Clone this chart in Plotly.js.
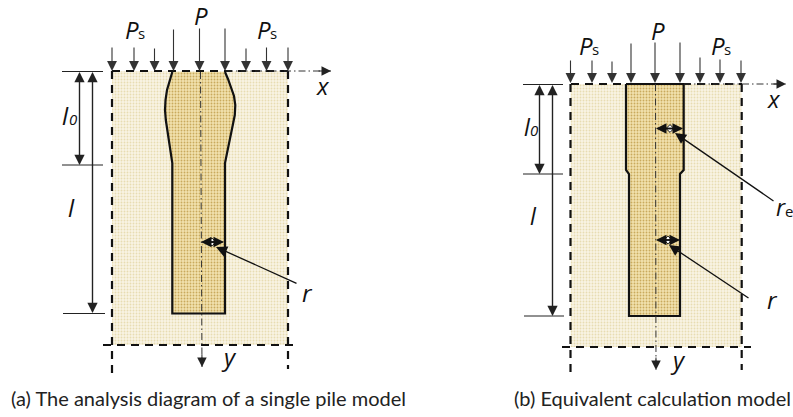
<!DOCTYPE html>
<html><head><meta charset="utf-8">
<script src="https://cdn.plot.ly/plotly-3.0.1.min.js"></script>
<style>html,body{margin:0;padding:0;background:#fff}#c{width:793px;height:417px}</style>
</head><body><div id="c"></div>
<script>
// Panel (a)
const soilAx=[112,288,288,112,112], soilAy=[71,71,345,345,71];
const pileAx=[172.3,170,167,165.5,165,165.8,167,168.5,170.5,172.3,172.3,225,225,228,230.5,233,234.8,235.3,234,231.5,228,225];
const pileAy=[72,80,90,100,110,120,128,140,152,163,313.5,313.5,163,147,135,124,115,105,96,88,79,72];
const borderTopA={x:[112,288],y:[71,71]};
const borderLeftA={x:[112,112],y:[71,374]};
const borderRightA={x:[288,288],y:[71,369]};
const borderBottomA={x:[103,293],y:[345,345]};
const loadXA=[112,134,154.5,173.5,199.5,225,246,266.5,288];
const loadTopA=[46,46,47,28,27,27,47,46,46];
const loadEndA=71;
// Panel (b)
const soilBx=[570.7,741.7,741.7,570.7,570.7], soilBy=[84,84,347,347,84];
const pileBx=[626,626,629,629,680,680,683.7,683.7,626];
const pileBy=[84,170,174,316,316,174,170,84,84];
const borderTopB={x:[571,742],y:[84,84]};
const borderLeftB={x:[570.5,570.5],y:[84,374]};
const borderRightB={x:[741.7,741.7],y:[84,370]};
const borderBottomB={x:[562,751],y:[347,347]};
const loadXB=[570.5,592,612,631,655,680,700,720,741];
const loadTopB=[59,59,60,42,41,41,56,58,59];
const loadEndB=83;
// Axes and dimension lines: [x0,y0,x1,y1]
const axisLines=[[226,71,331,71],[200.5,72,202,367],[684,84,786,84],[655.5,84,656,370]];
const thinLines=[[62,71.5,103,71.5],[62,165,103,165],[63,313.5,105,313.5],[523,84.5,563,84.5],[523,174,563,174],[524,316,564,316]];
const doubleArrows=[[79.5,72,79.5,165],[92.5,72,92.5,313],[539.5,85,539.5,174],[552.5,85,552.5,316]];
const radiusArrows=[[201,242,224,242],[656,128.5,683,128.5],[656,240,680,240]];
const radiusCentreX=[212,670,668], radiusCentreY=[242,128.5,240];
const leaders=[[298,284,216,247],[775,202,675,133],[750,299,669,245]];
// Italic labels: [string,x,y,size]
const italicText=[["P",201,15,24],["P",131.5,29,24],["P",263.5,29,24],["l",65.5,115,24],["0",72.5,119,15],["l",71,207,24],["x",323,85,24],["y",229,356,24],["r",307,292,24],
["P",658,30,24],["P",586,45,24],["P",717.5,45,24],["l",527.5,127,23],["0",534,130,15],["l",533,216,23],["x",774,98,24],["y",678,359,24],["r",781,207,23],["r",772,299,24]];
// Upright subscripts: [string,x,y,size]
const subText=[["s",141.5,33,15],["s",273.5,33,15],["s",595.5,49,15],["s",727,49,15],["e",789,211,15]];
const captions=[["(a) The analysis diagram of a single pile model",208,398],["(b) Equivalent calculation model",652,398]];

const soilPat={shape:'.',bgcolor:'#f9f4e4',fgcolor:'#e8dcb2',size:3,solidity:0.3};
const pilePat={shape:'.',bgcolor:'#f2e2ae',fgcolor:'#c9aa5c',size:3,solidity:0.3};
const traces=[];
function area(x,y,pat,line){traces.push({x,y,type:'scatter',mode:'lines',fill:'toself',fillpattern:pat,fillcolor:pat.bgcolor,line:line,hoverinfo:'skip',showlegend:false});}
function seg(x,y,line){traces.push({x,y,type:'scatter',mode:'lines',line,hoverinfo:'skip',showlegend:false});}
const noLine={width:0,color:'rgba(0,0,0,0)'};
area(soilAx,soilAy,soilPat,noLine);
area(soilBx,soilBy,soilPat,noLine);
area(pileAx,pileAy,pilePat,{width:2.2,color:'#111'});
area(pileBx,pileBy,pilePat,{width:2.2,color:'#111'});
const dash={width:2.2,color:'#111',dash:'8px,6px'};
[borderTopA,borderLeftA,borderRightA,borderBottomA,borderTopB,borderLeftB,borderRightB,borderBottomB].forEach(b=>seg(b.x,b.y,dash));
axisLines.forEach(l=>seg([l[0],l[2]],[l[1],l[3]],{width:1,color:'#333',dash:'7px,3px,1.5px,3px'}));
thinLines.forEach(l=>seg([l[0],l[2]],[l[1],l[3]],{width:1,color:'#222'}));

const ann=[];
function arrow(x0,y0,x1,y1,w,s,col){ann.push({x:x1,y:y1,ax:x0,ay:y0,xref:'x',yref:'y',axref:'x',ayref:'y',text:'',showarrow:true,arrowhead:2,arrowsize:s,arrowwidth:w,arrowcolor:col||'#222',standoff:0});}
loadXA.forEach((x,i)=>arrow(x,loadTopA[i],x,loadEndA,1.1,1.8,'#333'));
loadXB.forEach((x,i)=>arrow(x,loadTopB[i],x,loadEndB,1.1,1.8,'#333'));
doubleArrows.forEach(d=>{arrow(d[0],d[1],d[2],d[3],1.2,1.7);arrow(d[2],d[3],d[0],d[1],1.2,1.7);});
radiusArrows.forEach(d=>{arrow(d[0],d[1],d[2],d[3],1.4,1.5,'#111');arrow(d[2],d[3],d[0],d[1],1.4,1.5,'#111');});
leaders.forEach(l=>arrow(l[0],l[1],l[2],l[3],1.3,1.7,'#111'));
axisLines.forEach(l=>{const d=Math.hypot(l[2]-l[0],l[3]-l[1]);arrow(l[2]-(l[2]-l[0])/d*14,l[3]-(l[3]-l[1])/d*14,l[2],l[3],1,1.9,'#222');});
traces.push({x:radiusCentreX,y:radiusCentreY,type:'scatter',mode:'markers',marker:{symbol:'diamond',size:6,color:'#fff',line:{color:'#111',width:1}},hoverinfo:'skip',showlegend:false});
const label=(t,st,col,fam)=>ann.push({x:t[1],y:t[2],xref:'x',yref:'y',text:st?('<i>'+t[0]+'</i>'):t[0],showarrow:false,font:{family:fam,size:t[3],color:col},xanchor:'center',yanchor:'middle'});
italicText.forEach(t=>label(t,true,'#111','"Open Sans",sans-serif'));
subText.forEach(t=>label(t,false,'#111','"Open Sans",sans-serif'));
captions.forEach(t=>label([t[0],t[1],t[2],20],false,'#222','Lato,sans-serif'));

Plotly.newPlot('c',traces,{width:793,height:417,margin:{l:0,r:0,t:0,b:0},paper_bgcolor:'#fff',plot_bgcolor:'#fff',showlegend:false,
 xaxis:{range:[0,793],visible:false,fixedrange:true},
 yaxis:{range:[417,0],visible:false,fixedrange:true},
 annotations:ann},{displayModeBar:false,staticPlot:true});
</script></body></html>
